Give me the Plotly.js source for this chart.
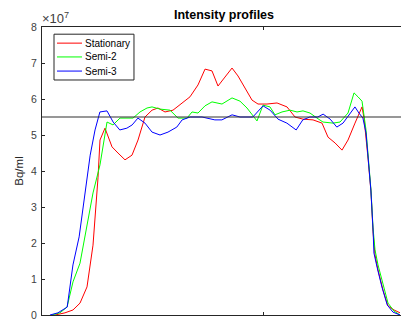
<!DOCTYPE html>
<html>
<head>
<meta charset="utf-8">
<script src="https://cdn.plot.ly/plotly-3.0.1.min.js"></script>
<style>
html,body{margin:0;padding:0;overflow:hidden;background:#fff;width:401px;height:320px;}
#chart{width:407px;height:320px;}
</style>
</head>
<body>
<div id="chart"></div>
<script>
// Values in units of 1e7 Bq/ml; x in sample position
const stationaryX = [2.94,5.20,7.01,8.60,10.18,11.54,12.67,13.12,14.25,15.84,17.19,18.78,20.36,21.72,23.30,24.89,26.24,27.83,29.64,31.67,33.48,35.29,36.88,38.46,39.82,41.40,42.99,44.34,45.93,47.51,48.87,50.90,53.17,55.43,57.24,59.05,61.31,63.35,64.71,66.29,67.87,69.23,70.81,72.40,72.85,73.30,73.76,74.43,74.89,75.34,76.02,77.15,78.28,79.64,81.00];
const stationaryY = [0,0.06,0.14,0.33,0.78,1.94,3.81,4.86,5.19,4.67,4.50,4.31,4.44,4.86,5.50,5.69,5.75,5.64,5.69,5.89,6.06,6.39,6.83,6.78,6.36,6.61,6.86,6.64,6.31,5.97,5.86,5.86,5.89,5.78,5.50,5.44,5.42,5.33,4.94,4.78,4.58,4.86,5.33,5.78,5.47,5.00,4.36,3.42,2.31,1.67,1.25,0.69,0.25,0.14,0.06];

const semi2X = [2.26,4.07,5.66,7.01,8.60,10.18,11.54,13.12,14.03,14.71,16.06,17.65,19.46,20.59,22.17,23.76,24.89,26.70,28.96,30.77,32.81,33.94,35.29,36.88,38.46,40.72,42.99,44.80,46.38,47.51,48.64,50.00,51.58,52.71,54.30,56.11,57.69,59.05,60.63,62.22,63.57,65.84,67.42,69.23,70.59,71.49,72.40,73.30,73.76,74.43,74.89,75.34,76.02,77.15,78.28,79.64,81.00];
const semi2Y = [0,0.06,0.22,0.92,1.44,2.44,3.39,4.17,4.86,5.36,5.28,5.47,5.47,5.47,5.64,5.75,5.78,5.72,5.69,5.47,5.47,5.64,5.61,5.81,5.92,5.86,6.03,5.94,5.75,5.56,5.39,5.83,5.78,5.56,5.64,5.69,5.64,5.67,5.61,5.47,5.36,5.33,5.36,5.61,6.17,6.06,5.94,5.14,4.39,3.47,2.42,1.81,1.39,0.83,0.33,0.11,0];

const semi3X = [1.8,3.6,5.7,7.0,8.4,9.7,10.9,12.0,13.1,14.7,16.1,17.6,19.2,20.4,21.7,23.3,24.9,26.7,28.5,30.5,31.7,33.5,36.2,39.1,40.7,43.0,44.8,47.7,50.0,51.6,53.4,55.4,57.5,59.0,60.6,62.4,63.6,65.2,66.7,68.1,69.5,70.8,71.7,72.6,73.3,73.8,74.4,74.9,75.1,75.8,76.9,78.1,79.4,81.0];
const semi3Y = [0,0.06,0.22,1.39,2.17,3.33,4.44,5.14,5.64,5.67,5.36,5.14,5.19,5.28,5.47,5.33,5.08,5.00,5.08,5.22,5.42,5.50,5.50,5.42,5.42,5.56,5.50,5.50,5.81,5.69,5.44,5.33,5.14,5.42,5.50,5.50,5.58,5.44,5.22,5.33,5.56,5.78,5.61,5.47,5.06,4.39,3.47,2.36,1.72,1.33,0.78,0.28,0.08,0];

const referenceLevel = 5.5;
const xRange = [0, 82.35];
const seriesNames = ['Stationary','Semi-2','Semi-3'];
const seriesColors = ['#ff0000','#00ff00','#0000ff'];
const yTicks = [0,1,2,3,4,5,6,7,8];

const axisColor = '#262626';
const labelColor = '#404040';
const xs = [stationaryX, semi2X, semi3X];
const ys = [stationaryY, semi2Y, semi3Y];

const traces = seriesNames.map((n, i) => ({
  x: xs[i], y: ys[i], name: n, mode: 'lines', showlegend: false,
  line: {color: seriesColors[i], width: 1}
}));
traces.push({x: xRange, y: [referenceLevel, referenceLevel], mode:'lines', showlegend:false, line:{color:'#303030', width:1.2}, hoverinfo:'skip'});

// Legend box drawn in paper coordinates (MATLAB-style compact legend)
const legX0 = 0.033, legX1 = 0.2527, legY0 = 0.816, legY1 = 0.975;
const legLineX0 = 0.0412, legLineX1 = 0.1099, legTextX = 0.1181;
const legRowY = [0.944, 0.896, 0.847];

const shapes = [{type:'rect', xref:'paper', yref:'paper', x0:legX0, x1:legX1, y0:legY0, y1:legY1,
  line:{color:axisColor, width:1}, fillcolor:'#ffffff', layer:'above'}];
const annotations = [{text:'×10<sup>7</sup>', xref:'paper', yref:'paper', x:0, y:1, xanchor:'left', yanchor:'bottom',
  showarrow:false, font:{size:13, color:labelColor}, xshift:-2, yshift:-1}];
seriesNames.forEach((n, i) => {
  shapes.push({type:'line', xref:'paper', yref:'paper', x0:legLineX0, x1:legLineX1, y0:legRowY[i], y1:legRowY[i],
    line:{color:seriesColors[i], width:1}, layer:'above'});
  annotations.push({text:n, xref:'paper', yref:'paper', x:legTextX, y:legRowY[i], xanchor:'left', yanchor:'middle',
    showarrow:false, font:{size:10, color:'#000000'}, xshift:-2});
});

const layout = {
  width: 407, height: 320,
  margin: {l:42, r:1, t:27, b:5},
  paper_bgcolor:'#ffffff', plot_bgcolor:'#ffffff',
  font: {family:'"Liberation Sans", Arial, sans-serif', size:10, color:axisColor},
  title: {text:'<b>Intensity profiles</b>', x:0.5, xref:'paper', xanchor:'center', y:1, yref:'container', yanchor:'top', pad:{t:10}, font:{size:12.5, color:'#000000'}},
  showlegend: false,
  xaxis: {range:xRange, tickvals:[0,50,100], showticklabels:false, ticks:'inside', ticklen:3, tickcolor:axisColor, showline:true, linecolor:axisColor, linewidth:1, mirror:'ticks', showgrid:false, zeroline:false, fixedrange:true},
  yaxis: {range:[0,8], tickvals:yTicks, ticktext:yTicks.map(String), ticks:'inside', ticklen:3, tickcolor:axisColor, showline:true, linecolor:axisColor, linewidth:1, mirror:'ticks', showgrid:false, zeroline:false,
    tickfont:{size:10.5, color:labelColor}, ticklabeloverflow:'allow', ticklabelstandoff:2,
    title:{text:'Bq/ml', font:{size:11.5, color:axisColor}, standoff:5}, fixedrange:true},
  shapes: shapes,
  annotations: annotations
};

Plotly.newPlot('chart', traces, layout, {displayModeBar:false, staticPlot:true});
</script>
</body>
</html>
